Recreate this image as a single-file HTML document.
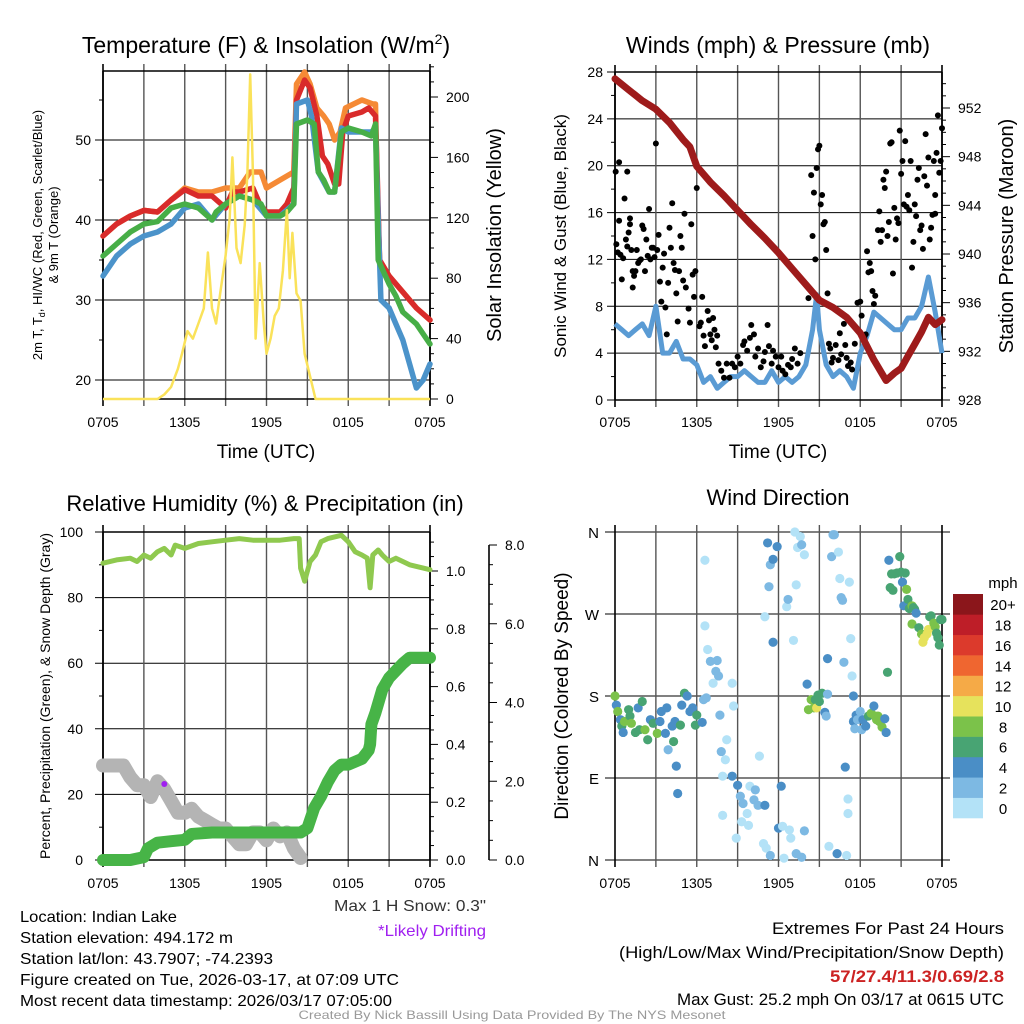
<!DOCTYPE html>
<html><head><meta charset="utf-8"><style>
html,body{margin:0;padding:0;background:#fff;}
svg{display:block;font-family:"Liberation Sans",sans-serif;}
</style></head><body>
<svg id="c" width="1024" height="1024" viewBox="0 0 1024 1024" xmlns="http://www.w3.org/2000/svg"></svg>
<script>
// ---------- DATA ----------
const tickLabelsTime = ["0705","1305","1905","0105","0705"];
const tickHoursTime = [0,6,12,18,24];
// Panel 1
const tempHours = [0,1,2,3,4,5,6,7,8,9,9.5,10,11,11.5,12,13,13.5,14,14.2,14.8,15.2,15.7,16.1,16.5,17,17.3,17.6,18,19,19.5,20,20.1,20.3,21,22,23,24];
const temp2m   = [38,39.5,40.5,41.2,41,42.5,43.8,43,43,41.5,43.5,43.5,44,42,41,41,42,44,55,57.5,56.5,53,48,47,44.5,44.5,51,53,53.5,54,53,47,35,33,31,29,27.5];
const temp9mHours = [0,1,2,3,4,5,6,7,8,9,10,10.8,11.6,12,13,14,14.2,14.8,15.2,15.7,16.2,16.6,17,17.4,17.8,19,19.8,20,20.1,20.3,21,22,23,24];
const temp9m   = [38,39.5,40.5,41.2,41,42.5,44,43.5,43.5,44,44,46,46,44,45,46,57,58.5,57,54,53,52,50,51,54,55,54.5,54.5,45,35,33,31,29,27.5];
const dewHours = [0,1,2,3,4,5,6,7,8,8.3,9,10,11,11.6,12,13,13.5,14,14.2,15,15.5,15.8,16.2,16.6,17,17.5,18,19,19.7,20,20.2,21,21.5,22,23,24];
const dewpoint = [35.5,37,38.5,39.5,39.8,41.5,42,41.5,40,41,42,43,42.5,42,40.5,40.5,41,42,52,52.5,52,46,45,43.5,43.5,51,51.5,51,50.5,52,35,32,30.5,28.5,27,24.5];
const hiwcHours = [0,1,2,3,4,4.5,5,6,7,8,9,10,11,12,13,14,14.2,15,15.3,15.8,16.6,17,17.5,18,19,19.7,20,20.2,20.4,21,21.5,22,22.5,23,23.5,24];
const hiwc     = [33,35.5,37,38,38.5,39,39.5,41.5,42,40,42,43,42.5,40.5,40.5,42,54.5,55,53,46,43.5,43.5,51.5,51,51,51,51.5,40,30,29,27,25,22,19,20,22];
const solarHours = [0,4,4.5,5,5.5,5.8,6.2,6.6,7,7.4,7.7,8,8.3,8.6,9,9.3,9.5,9.8,10.1,10.4,10.6,10.8,11,11.2,11.5,11.8,12,12.3,12.6,12.9,13.2,13.5,13.7,13.9,14.2,14.5,14.8,15.2,15.6,24];
const solar = [0,0,3,8,20,30,45,40,50,60,97,60,50,70,95,120,160,100,90,115,150,215,150,40,90,50,30,40,55,60,85,125,80,110,70,65,30,15,0,0];
// Panel 2
const windHours = [0,0.5,1,1.5,2,2.5,3,3.5,4,4.5,5,5.5,6,6.5,7,7.5,8,8.5,9,9.5,10,10.5,11,11.5,12,12.5,13,13.5,14,14.5,14.8,15,15.5,16,16.5,17,17.5,18,18.5,19,19.5,20,20.5,21,21.5,22,22.5,23,23.5,24];
const windSpeed = [6.5,6,5.5,6,6.5,5.5,8,4,4,5,3.5,3.5,3,1.5,2,1,1.5,2,2,2.5,2,1.5,1.5,2.5,1.5,2,1.5,2,3,6,9,6,3,2,2.5,2,1,4,5.5,7.5,7,6.5,6,6,7,7,8,10.5,7.5,4];
const presHours = [0,1,2,3,4,5,5.5,6,7,8,9,10,11,12,13,14,15,16,17,18,19,19.9,20.5,21,21.5,22,22.5,23,23.5,24];
const pressure = [954.4,953.5,952.6,951.9,950.8,949.4,948.8,947.2,945.9,944.8,943.6,942.4,941.3,940.1,938.8,937.5,936.2,935.6,934.8,933.5,931.3,929.6,930.2,930.6,931.6,932.6,933.6,934.8,934.2,934.6];
const gustHours = [0.05,0.1,0.2,0.3,0.3,0.4,0.5,0.6,0.7,0.8,0.9,0.9,1.0,1.1,1.1,1.2,1.3,1.4,1.3,1.5,1.6,1.7,1.8,1.9,2.0,2.1,2.2,2.3,2.4,2.5,2.6,2.7,2.8,2.9,3.0,3.1,3.2,3.3,3.4,3.5,3.6,3.7,3.8,3.9,4.0,4.1,4.2,4.3,4.4,4.5,4.6,4.7,4.8,4.9,5.0,5.1,5.2,5.4,5.5,5.6,5.7,5.8,5.9,6.0,6.2,6.3,6.4,6.5,6.6,6.8,6.9,7.0,7.1,7.2,7.3,7.4,7.5,7.6,7.8,8.0,8.2,8.4,8.6,8.8,9.0,9.2,9.4,9.5,9.7,9.9,10.0,10.2,10.3,10.5,10.7,10.9,11.0,11.2,11.3,11.5,11.6,11.8,12.0,12.2,12.3,12.5,12.7,12.9,13.0,13.2,13.4,13.6,14.2,14.4,14.5,14.6,14.7,14.8,14.9,15.0,15.1,15.2,15.3,15.4,15.5,15.6,15.7,15.8,15.9,16.0,16.2,16.4,16.5,16.6,16.8,16.9,17.0,17.1,17.3,17.4,17.6,17.8,18.0,18.1,18.3,18.4,18.5,18.6,18.7,18.8,18.9,19.0,19.1,19.3,19.4,19.5,19.6,19.7,19.8,19.9,20.0,20.1,20.2,20.3,20.4,20.5,20.6,20.7,20.8,20.9,21.0,21.1,21.2,21.3,21.4,21.5,21.6,21.7,21.8,21.9,22.0,22.1,22.2,22.3,22.4,22.5,22.6,22.7,22.8,22.9,23.0,23.1,23.2,23.3,23.4,23.5,23.5,23.6,23.7,23.8,23.9,24.0];
const gustSpeed = [19.5,13.3,12.6,20.3,15.3,12.4,10.3,12.1,17.2,13.7,19.5,13.1,14.3,15,15.5,12.8,11,10.6,9.6,11,12.8,11.7,11.9,12,14.9,14.6,11,13.7,12.3,16.3,12,13,13,12.2,21.9,12.8,14.1,10.1,8.4,11.3,12.5,7.9,5.6,10,14.7,13,16.8,11.7,11.1,9.1,6.7,11,14,13,10.2,15.9,9.6,7.8,6.6,15,10.7,8.8,11,18.1,6.3,6.6,8.8,5.5,4.6,7.6,6.8,5.6,5.1,7,6,4.5,5.5,3.1,2.5,1.9,3.1,1.9,3.1,2.8,3.7,3.1,4.7,5,4.2,5.3,6.4,5.6,3.7,4.4,2.8,3.3,4.1,6.4,4.6,3.1,4.2,3.7,2.8,3.7,2.5,2.2,3,2.8,3.5,4.4,3.1,4,8.7,19.2,14,17.7,12,19.8,21.4,21.7,16.7,17.5,15,15.2,12.8,9.1,4.8,4.4,3.2,3.6,4.7,3.4,5.7,3.9,6.5,4.7,3.6,2.9,3.2,2.6,4.8,8.3,8.4,7.2,5.3,5.6,12.7,10.9,11.7,11,9.3,8.2,8.9,14.5,16.1,13.5,14.5,18.8,18.1,19.5,14,15.2,21.9,22,10.8,16.4,13.7,15.5,15.1,23,19.3,20.4,16.7,22.1,16.5,17.5,16.2,20.4,11.3,13.5,16.7,15.7,18.8,19.8,14.5,14.9,12.9,19.1,22.7,18.3,20.7,13.7,14.7,15.8,20.4,17.5,15.9,21.1,24.3,19.4,20.4,23.2,25.2];
// Panel 3
const rhHours = [0,1,2,2.5,3,3.5,4,4.5,5,5.3,6,7,8,9,10,11,12,13,14,14.4,14.5,14.8,15.2,15.6,16,16.5,17,17.5,18,18.5,19,19.4,19.6,19.8,20.2,20.5,21,21.5,22,22.5,24];
const rh = [90.5,91.5,92,91,93,92,94,95,93,96,95,96.5,97,97.5,98,97.5,97.5,97.5,98,98,89,85,91,93,97,98,98.5,99,97,94,93,92,83,93,94.5,93,91,92,91,90,88.5];
const precipHours = [0,2,3,3.3,4,5,6,6.5,8,14.5,15,15.5,16,16.5,17,17.5,18,19,19.5,19.6,19.7,20,20.5,21,22,22.5,24];
const precip = [0,0,0.01,0.04,0.06,0.065,0.07,0.09,0.095,0.095,0.11,0.18,0.22,0.27,0.31,0.33,0.33,0.35,0.38,0.4,0.47,0.51,0.59,0.63,0.68,0.7,0.7];
const snowHours = [0,1.5,2,2.5,3,3.5,4,4.5,5,5.5,6,6.5,7,7.5,8,8.5,9,10,10.5,11,11.5,12,12.5,13,13.5,14,14.5];
const snowDepth = [2.4,2.4,2.1,1.9,1.9,1.6,2.0,1.8,1.5,1.2,1.2,1.3,1.1,1.0,0.9,0.8,0.8,0.4,0.4,0.7,0.7,0.5,0.8,0.6,0.7,0.3,0.05];
const driftHours = [4.5];
const driftDepth = [1.93];
// Panel 4
const dirHours = [0,0.1,0.2,0.4,0.5,0.6,0.7,1.0,1.1,1.2,1.5,1.7,2.0,1.8,2.2,2.4,2.6,2.8,3.1,3.3,3.4,3.7,3.8,3.9,4.2,4.3,4.4,4.5,4.6,4.8,4.9,5.1,5.3,5.5,5.7,5.9,6.0,6.4,6.5,6.7,6.6,6.6,6.8,7.0,7.2,7.4,7.5,7.6,7.7,7.9,7.8,8.2,8.1,7.9,8.6,8.6,8.7,8.9,9.0,9.2,9.3,9.4,9.7,9.8,9.9,10.2,10.3,10.5,10.6,10.9,11.0,11.1,11.4,11.2,11.4,11.6,11.3,11.0,11.6,11.9,12.0,12.2,12.3,12.4,12.6,12.7,12.8,12.9,13.2,13.3,13.4,13.6,13.7,13.1,13.3,13.7,13.9,13.9,14.1,14.2,14.4,14.6,14.7,14.8,14.9,15.0,15.2,15.4,15.5,15.6,15.6,15.7,15.9,16.0,16.1,16.3,16.4,16.5,16.6,16.7,16.8,16.9,17.0,17.1,17.1,17.2,17.3,17.4,17.5,17.5,17.6,17.7,17.8,18.0,18.1,18.2,18.4,18.6,18.8,19.0,19.1,19.2,19.3,19.4,19.6,19.8,19.9,20.0,20.1,20.2,20.3,20.4,20.5,20.7,20.9,21.0,21.1,21.2,21.3,21.4,21.5,21.6,21.8,21.9,22.0,22.1,21.8,22.3,22.5,22.6,22.7,22.9,23.0,23.1,23.2,23.4,23.5,23.6,23.7,23.8,23.9,24.0];
const dirDeg = [180,170,163,154,147,140,152,165,158,150,140,167,174,143,143,132,154,150,139,152,163,139,167,121,147,130,152,103,73,148,170,183,180,163,167,148,159,151,176,178,329,257,231,218,194,207,219,202,159,49,119,132,110,92,92,194,169,24,82,70,42,62,51,38,81,66,77,60,114,18,60,13,5,348,324,330,300,267,239,344,35,81,37,2,278,286,33,24,360,302,343,355,346,241,7,3,335,32,193,165,176,167,176,167,181,174,183,162,158,182,221,15,333,357,357,7,338,309,288,285,217,102,5,67,51,305,243,202,180,152,144,159,154,163,143,154,147,158,161,169,158,154,158,152,146,155,140,206,329,299,314,296,314,315,333,316,305,279,315,297,286,276,279,277,275,271,259,255,248,239,244,248,253,267,268,260,256,249,244,236,264,264];
const dirSpeed = [8,4,8,4,6,4,8,6,6,8,6,4,6,6,8,6,4,6,8,4,4,4,4,2,4,6,4,4,4,6,4,6,4,4,4,6,6,4,2,2,0,0,0,2,0,2,2,2,2,0,2,0,0,0,4,0,0,0,4,2,0,2,0,0,0,2,2,2,0,0,4,0,2,4,2,4,2,0,4,4,4,4,0,0,0,2,0,0,0,0,0,0,2,0,2,2,0,2,4,8,8,8,6,10,6,6,6,4,2,2,4,0,2,2,2,4,0,0,2,2,2,4,0,0,0,0,0,0,4,4,2,4,2,2,2,4,4,6,8,4,8,8,8,8,8,4,4,6,4,6,6,6,6,6,6,6,4,4,6,8,6,6,8,6,6,4,8,6,8,10,10,10,10,6,6,8,8,6,6,6,6,6];
const speedBins = ["0","2","4","6","8","10","12","14","16","18","20+"];
const speedColors = ["#b3e2f7","#7db9e3","#4a8ec6","#48a473","#7bc24a","#e6e25c","#f5aa47","#ef6630","#dc3a2c","#be1e28","#8b161b"];

// ---------- DRAW ----------
const NS="http://www.w3.org/2000/svg";
const svg=document.getElementById('c');
function mk(tag,attrs,parent){const e=document.createElementNS(NS,tag);for(const k in attrs)e.setAttribute(k,attrs[k]);(parent||svg).appendChild(e);return e;}
function txt(s,x,y,size,anchor,parent,extra){const t=mk('text',Object.assign({x:x,y:y,'font-size':size,'text-anchor':anchor||'start',fill:'#000'},extra||{}),parent);t.textContent=s;return t;}
function xScale(x0,x1){return h=>x0+h*(x1-x0)/24;}
function lin(v0,p0,v1,p1){return v=>p0+(v-v0)*(p1-p0)/(v1-v0);}
function pathD(xs,ys,fx,fy){return xs.map((h,i)=>(i?'L':'M')+fx(h).toFixed(1)+','+fy(ys[i]).toFixed(1)).join(' ');}

function frame(g,x0,x1,y0,y1){
  for(let k=0;k<=8;k++){const x=x0+k*(x1-x0)/8;
    mk('line',{x1:x,y1:y0-7,x2:x,y2:y1+7,stroke:(k==0||k==8)?'#000':'#555','stroke-width':(k==0||k==8)?1.6:1.4},g);}
  mk('line',{x1:x0,y1:y0,x2:x1,y2:y0,stroke:'#000','stroke-width':1.4},g);
  mk('line',{x1:x0,y1:y1,x2:x1,y2:y1,stroke:'#000','stroke-width':1.4},g);
}
function xLabels(g,fx,y){tickHoursTime.forEach((h,i)=>{const t=txt(tickLabelsTime[i],fx(h),y,14,'middle',g);});}

// ===== Panel 1 =====
(function(){
  const g=mk('g',{});
  const x0=103,x1=430,y0=71,y1=399;
  const fx=xScale(x0,x1), fy=lin(50,140,40,220), fs=lin(0,399,200,97);
  [20,30,40,50].forEach(v=>{mk('line',{x1:x0-8,y1:fy(v),x2:x1,y2:fy(v),stroke:'#000','stroke-width':1},g);txt(String(v),x0-12,fy(v)+5,14,'end',g);});
  [25,35,45,55].forEach(v=>mk('line',{x1:x0-4,y1:fy(v),x2:x0,y2:fy(v),stroke:'#000'},g));
  frame(g,x0,x1,y0,y1);
  for(let v=0;v<=220;v+=10){mk('line',{x1:x1,y1:fs(v),x2:x1+(v%40==0?8:4),y2:fs(v),stroke:'#000'},g);}
  [0,40,80,120,160,200].forEach(v=>txt(String(v),x1+16,fs(v)+5,14,'start',g));
  mk('line',{x1:x1,y1:y0,x2:x1,y2:y1,stroke:'#000','stroke-width':1.6},g);
  mk('line',{x1:x0,y1:y0,x2:x0,y2:y1,stroke:'#000','stroke-width':1.6},g);
  const series=[[temp9mHours,temp9m,'#f58a35','line-9m-temp'],[tempHours,temp2m,'#d92b2b','line-2m-temp'],[hiwcHours,hiwc,'#4b93ca','line-heat-index-windchill'],[dewHours,dewpoint,'#47ae47','line-dewpoint']];
  series.forEach(s=>{const p=mk('path',{d:pathD(s[0],s[1],fx,fy),fill:'none',stroke:s[2],'stroke-width':5.5,'stroke-linejoin':'round','stroke-linecap':'round'},g);});
  const sp=mk('path',{d:pathD(solarHours,solar,fx,fs),fill:'none',stroke:'#fae25a','stroke-width':2.5,'stroke-linejoin':'round'},g);
  
  xLabels(g,fx,427);
  const t=mk('text',{x:266,y:53,'font-size':23,'text-anchor':'middle'},g);t.innerHTML='Temperature (F) &amp; Insolation (W/m<tspan dy="-9" font-size="14">2</tspan><tspan dy="9">)</tspan>';
  
  const xt=txt('Time (UTC)',266,458,19,'middle',g);
  const yl=mk('text',{x:0,y:0,'font-size':13,'text-anchor':'middle',transform:'translate(42,235) rotate(-90)'},g);yl.innerHTML='2m T, T<tspan dy="3" font-size="9">d</tspan><tspan dy="-3">, HI/WC (Red, Green, Scarlet/Blue)</tspan>';
  
  const yl2=txt('& 9m T (Orange)',0,0,13,'middle',g,{transform:'translate(58,235) rotate(-90)'});
  const yr=txt('Solar Insolation (Yellow)',0,0,20,'middle',g,{transform:'translate(501,235) rotate(-90)'});
})();

// ===== Panel 2 =====
(function(){
  const g=mk('g',{});
  const x0=615,x1=942,y0=72,y1=400;
  const fx=xScale(x0,x1), fy=lin(0,400,28,72), fp=lin(928,400,952,108);
  for(let v=0;v<=28;v+=4){mk('line',{x1:x0-8,y1:fy(v),x2:x1,y2:fy(v),stroke:'#000','stroke-width':1},g);txt(String(v),x0-12,fy(v)+5,14,'end',g);}
  for(let v=2;v<28;v+=4)mk('line',{x1:x0-4,y1:fy(v),x2:x0,y2:fy(v),stroke:'#000'},g);
  frame(g,x0,x1,y0,y1);
  for(let v=928;v<=954;v+=1){mk('line',{x1:x1,y1:fp(v),x2:x1+(v%4==0?8:4),y2:fp(v),stroke:'#000'},g);}
  [928,932,936,940,944,948,952].forEach(v=>txt(String(v),x1+16,fp(v)+5,14,'start',g));
  mk('line',{x1:x1,y1:y0,x2:x1,y2:y1,stroke:'#000','stroke-width':1.6},g);
  mk('line',{x1:x0,y1:y0,x2:x0,y2:y1,stroke:'#000','stroke-width':1.6},g);
  const wl=mk('path',{d:pathD(windHours,windSpeed,fx,fy),fill:'none',stroke:'#5a9bd4','stroke-width':5,'stroke-linejoin':'round'},g);
  
  gustHours.forEach((h,i)=>{const c=mk('circle',{cx:fx(h),cy:fy(gustSpeed[i]),r:3,fill:'#000'},g);
    });
  const pl=mk('path',{d:pathD(presHours,pressure,fx,fp),fill:'none',stroke:'#9e1b1b','stroke-width':7,'stroke-linejoin':'round','stroke-linecap':'round'},g);
  
  xLabels(g,fx,427);
  const t=txt('Winds (mph) & Pressure (mb)',778,53,23,'middle',g);
  const xt=txt('Time (UTC)',778,458,19,'middle',g);
  const yl=txt('Sonic Wind & Gust (Blue, Black)',0,0,17,'middle',g,{transform:'translate(566,236) rotate(-90)'});
  const yr=txt('Station Pressure (Maroon)',0,0,20,'middle',g,{transform:'translate(1013,236) rotate(-90)'});
})();

// ===== Panel 3 =====
(function(){
  const g=mk('g',{});
  const x0=103,x1=430,y0=532,y1=860;
  const fx=xScale(x0,x1), fy=lin(0,860,100,532), fpr=lin(0,860,1,571), fsn=lin(0,860,8,545);
  for(let v=0;v<=100;v+=20){mk('line',{x1:x0-8,y1:fy(v),x2:x1,y2:fy(v),stroke:'#000','stroke-width':1},g);txt(String(v),x0-20,fy(v)+5,14,'end',g);}
  for(let v=10;v<100;v+=20)mk('line',{x1:x0-4,y1:fy(v),x2:x0,y2:fy(v),stroke:'#000'},g);
  frame(g,x0,x1,y0,y1);
  for(let k=0;k<=22;k++){const v=k*0.05;mk('line',{x1:x1,y1:fpr(v),x2:x1+(k%4==0?8:4),y2:fpr(v),stroke:'#000'},g);}
  ['0.0','0.2','0.4','0.6','0.8','1.0'].forEach(s=>txt(s,x1+16,fpr(+s)+5,14,'start',g));
  mk('line',{x1:x1,y1:y0,x2:x1,y2:y1,stroke:'#000','stroke-width':1.6},g);
  mk('line',{x1:x0,y1:y0,x2:x0,y2:y1,stroke:'#000','stroke-width':1.6},g);
  const ax=489;
  mk('line',{x1:ax,y1:fsn(8),x2:ax,y2:y1,stroke:'#000','stroke-width':1.6},g);
  for(let k=0;k<=16;k++){const v=k*0.5;mk('line',{x1:ax,y1:fsn(v),x2:ax+(k%4==0?8:4),y2:fsn(v),stroke:'#000'},g);}
  ['0.0','2.0','4.0','6.0','8.0'].forEach(s=>txt(s,ax+16,fsn(+s)+5,14,'start',g));
  const sn=mk('path',{d:pathD(snowHours,snowDepth,fx,fsn),fill:'none',stroke:'#b4b4b4','stroke-width':14,'stroke-linejoin':'round','stroke-linecap':'round'},g);
  
  driftHours.forEach((h,i)=>{const c=mk('circle',{cx:fx(h),cy:fsn(driftDepth[i]),r:3,fill:'#a020f0'},g);});
  const pr=mk('path',{d:pathD(precipHours,precip,fx,fpr),fill:'none',stroke:'#47b447','stroke-width':12,'stroke-linejoin':'round','stroke-linecap':'round'},g);
  
  const rl=mk('path',{d:pathD(rhHours,rh,fx,fy),fill:'none',stroke:'#8fc94f','stroke-width':5,'stroke-linejoin':'round','stroke-linecap':'round'},g);
  
  xLabels(g,fx,888);
  const t=txt('Relative Humidity (%) & Precipitation (in)',265,511,22,'middle',g);
  const yl=txt('Percent, Precipitation (Green), & Snow Depth (Gray)',0,0,14,'middle',g,{transform:'translate(50,696) rotate(-90)'});
})();

// ===== Panel 4 =====
(function(){
  const g=mk('g',{});
  const x0=615,x1=942,y0=532,y1=860;
  const fx=xScale(x0,x1), fy=lin(0,860,360,532);
  const dl=['N','E','S','W','N'];
  [0,90,180,270,360].forEach((v,i)=>{mk('line',{x1:x0-10,y1:fy(v),x2:x1+8,y2:fy(v),stroke:'#000','stroke-width':1},g);txt(dl[i],x0-16,fy(v)+6,15,'end',g);});
  for(let k=0;k<=8;k++){const x=x0+k*(x1-x0)/8;mk('line',{x1:x,y1:y0-7,x2:x,y2:y1+7,stroke:(k==0||k==8)?'#000':'#555','stroke-width':(k==0||k==8)?1.6:1.4},g);}
  dirHours.forEach((h,i)=>{const b=Math.min(10,Math.floor(dirSpeed[i]/2));
    const c=mk('circle',{cx:fx(h),cy:fy(dirDeg[i]),r:4.6,fill:speedColors[b]},g);
    });
  xLabels(g,fx,888);
  const cb=mk('g',{},g);
  const cy0=594,cy1=818,bh=(cy1-cy0)/11;
  speedColors.forEach((c,i)=>{mk('rect',{x:953,y:cy1-(i+1)*bh,width:30,height:bh+0.3,fill:c},cb);
    txt(speedBins[i],1003,cy1-i*bh-bh/2+6,15,'middle',cb);});
  txt('mph',1003,588,15,'middle',cb);
  const t=txt('Wind Direction',778,505,22,'middle',g);
  const yl=txt('Direction (Colored By Speed)',0,0,19,'middle',g,{transform:'translate(568,696) rotate(-90)'});
})();

// ===== Footer text =====
(function(){
  const g=mk('g',{});
  const left=[['Location: Indian Lake',157],['Station elevation: 494.172 m',213],['Station lat/lon: 43.7907; -74.2393',253],['Figure created on Tue, 2026-03-17, at 07:09 UTC',379],['Most recent data timestamp: 2026/03/17 07:05:00',372]];
  left.forEach((s,i)=>txt(s[0],20,922+i*21,16,'start',g,{textLength:s[1],lengthAdjust:'spacingAndGlyphs'}));
  txt('Max 1 H Snow: 0.3"',486,911,16,'end',g,{fill:'#333',textLength:152,lengthAdjust:'spacingAndGlyphs'});
  txt('*Likely Drifting',486,936,16,'end',g,{fill:'#a020f0',textLength:108,lengthAdjust:'spacingAndGlyphs'});
  const r=mk('g',{});
  txt('Extremes For Past 24 Hours',1004,934,17,'end',r,{textLength:232,lengthAdjust:'spacingAndGlyphs'});
  txt('(High/Low/Max Wind/Precipitation/Snow Depth)',1004,958,17,'end',r,{textLength:385,lengthAdjust:'spacingAndGlyphs'});
  txt('57/27.4/11.3/0.69/2.8',1004,982,17,'end',r,{fill:'#cc2222','font-weight':'bold',textLength:174,lengthAdjust:'spacingAndGlyphs'});
  txt('Max Gust: 25.2 mph On 03/17 at 0615 UTC',1004,1005,17,'end',r,{textLength:327,lengthAdjust:'spacingAndGlyphs'});
  const c=txt('Created By Nick Bassill Using Data Provided By The NYS Mesonet',512,1019,12,'middle',null,{fill:'#999',textLength:427,lengthAdjust:'spacingAndGlyphs'});
  
})();
</script>
</body></html>
